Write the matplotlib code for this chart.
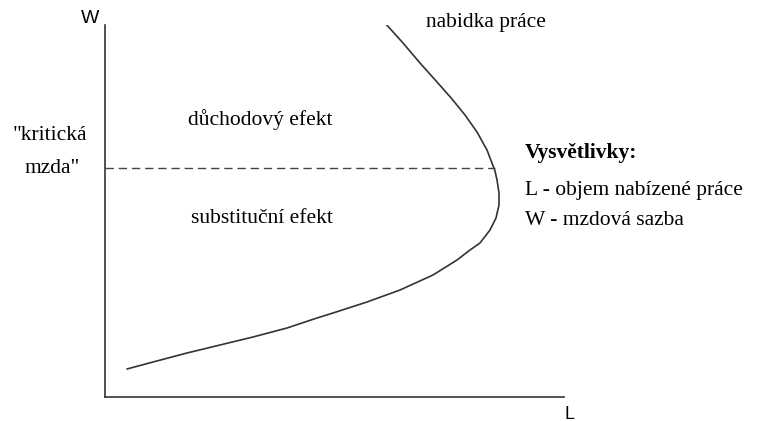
import matplotlib.pyplot as plt

# Nabídka práce (ohnutá křivka)
L_nabidka = [22, 48, 82, 115, 148, 182, 212, 228, 262, 295, 328, 352, 365, 375, 385, 391,
             394, 394, 392, 390, 382, 372, 360, 347, 332, 315, 298, 280]
W_nabidka = [28, 35, 44, 52, 60, 69, 79, 84, 95, 107, 122, 137, 147, 154, 167, 179,
             192, 204, 217, 226, 247, 265, 282, 298, 315, 334, 354, 374]
kriticka_mzda = 229
L_kriticka = 390
L_max = 459
W_max = 372

fig = plt.figure(figsize=(7.62, 4.21), dpi=100)
ax = fig.add_axes([105 / 762, 24 / 421, 459 / 762, 372 / 421])
ax.set_xlim(0, L_max)
ax.set_ylim(0, W_max)
for s in ['top', 'right']:
    ax.spines[s].set_visible(False)
for s in ['left', 'bottom']:
    ax.spines[s].set_color('#333333')
    ax.spines[s].set_linewidth(1.2)
ax.set_xticks([])
ax.set_yticks([])

# křivka a kritická mzda
ax.plot(L_nabidka, W_nabidka, color='#333333', lw=1.2, solid_capstyle='round',
        solid_joinstyle='round')
ax.plot([0, L_kriticka], [kriticka_mzda, kriticka_mzda], color='#444444', lw=1.0,
        dashes=(6, 3.5))

serif = 'Liberation Serif'
sans = 'Liberation Sans'
fs = 15.5

# popisky os
ax.text(-15, 379, 'W', family=sans, fontsize=14, ha='center', va='center', clip_on=False)
ax.text(460, -9, 'L', family=sans, fontsize=13, ha='left', va='top', clip_on=False)

ax.text(-55, 257, '"kritická', family=serif, fontsize=fs, ha='center', va='baseline', clip_on=False)
ax.text(-53, 224, 'mzda"', family=serif, fontsize=fs, ha='center', va='baseline', clip_on=False)

ax.text(155, 272, 'důchodový efekt', family=serif, fontsize=fs, ha='center', va='baseline')
ax.text(157, 174, 'substituční efekt', family=serif, fontsize=fs, ha='center', va='baseline')
ax.text(381, 370, 'nabidka práce', family=serif, fontsize=fs, ha='center', va='baseline', clip_on=False)

# vysvětlivky
ax.text(420, 239, 'Vysvětlivky:', family=serif, fontsize=fs, fontweight='bold',
        ha='left', va='baseline', clip_on=False)
ax.text(420, 202, 'L - objem nabízené práce', family=serif, fontsize=fs,
        ha='left', va='baseline', clip_on=False)
ax.text(420, 172, 'W - mzdová sazba', family=serif, fontsize=fs,
        ha='left', va='baseline', clip_on=False)

fig.savefig('out.png', dpi=100)
